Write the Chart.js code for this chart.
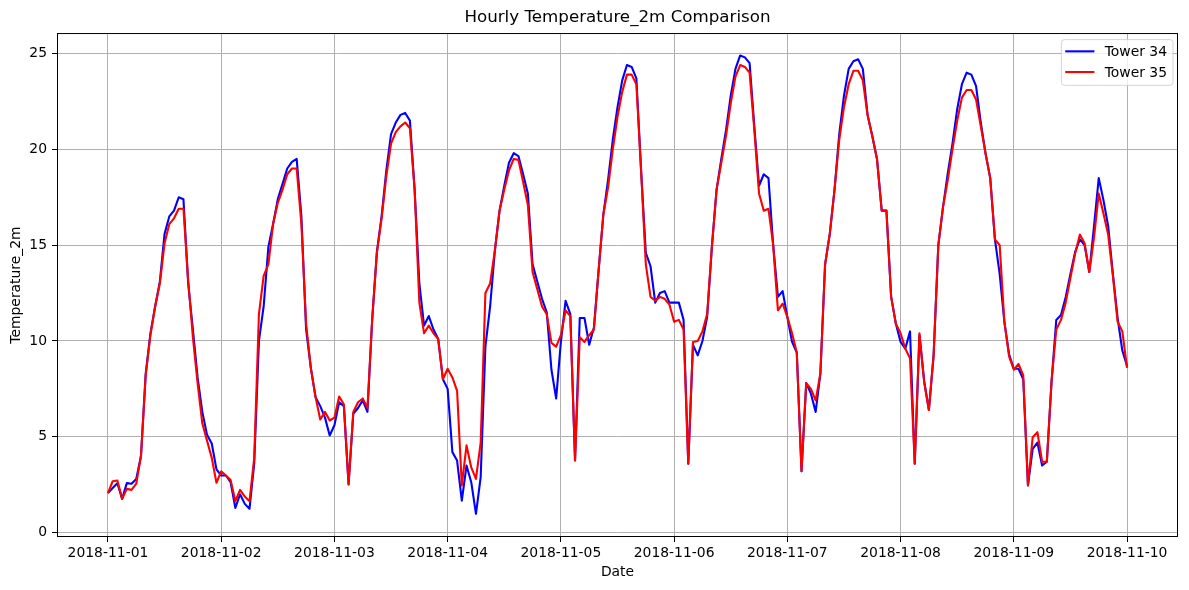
<!DOCTYPE html>
<html>
<head>
<meta charset="utf-8">
<script src="https://cdn.jsdelivr.net/npm/chart.js@4.4.1/dist/chart.umd.min.js"></script>
<style>
  html, body { margin: 0; padding: 0; background: #fff; }
  canvas { display: block; }
</style>
</head>
<body>
<canvas id="chart" width="1189" height="590"></canvas>
<script>
const dayLabels = ["2018-11-01", "2018-11-02", "2018-11-03", "2018-11-04", "2018-11-05",
  "2018-11-06", "2018-11-07", "2018-11-08", "2018-11-09", "2018-11-10"];

// hourly values, 2018-11-01 00:00 .. 2018-11-10 00:00
const tower34 = [
  2.06, 2.33, 2.58, 1.76, 2.58, 2.55, 2.8, 4.0, 8.3, 10.4, 11.8, 13.1, 15.6, 16.5, 16.8, 17.5, 17.4, 13.0, 10.6, 8.1, 6.3, 5.1, 4.65, 3.3,
  2.98, 2.98, 2.63, 1.29, 2.0, 1.5, 1.24, 3.6, 10.0, 11.8, 14.9, 16.1, 17.4, 18.2, 19.0, 19.35, 19.5, 16.5, 10.6, 8.6, 7.07, 6.6, 6.0, 5.07,
  5.6, 6.8, 6.6, 2.54, 6.2, 6.5, 6.9, 6.3, 11.1, 14.65, 16.5, 18.9, 20.8, 21.4, 21.8, 21.9, 21.5, 17.9, 13.0, 10.8, 11.3, 10.6, 10.1, 8.0,
  7.5, 4.2, 3.76, 1.67, 3.5, 2.63, 0.98, 2.9, 9.7, 11.8, 14.7, 16.8, 18.1, 19.3, 19.8, 19.65, 18.7, 17.7, 14.0, 13.1, 12.2, 11.5, 8.5, 7.0,
  9.95, 12.1, 11.4, 3.76, 11.2, 11.2, 9.8, 10.7, 13.7, 16.6, 18.4, 20.5, 22.2, 23.6, 24.4, 24.3, 23.7, 18.9, 14.6, 13.9, 12.0, 12.5, 12.6, 12.0,
  12.0, 12.0, 11.1, 3.6, 9.8, 9.25, 10.0, 11.25, 14.9, 17.9, 19.5, 21.0, 22.8, 24.2, 24.9, 24.8, 24.5, 21.2, 18.1, 18.7, 18.5, 15.0, 12.3, 12.6,
  11.25, 9.95, 9.4, 3.2, 7.8, 7.25, 6.3, 8.3, 14.0, 15.6, 17.9, 20.8, 22.8, 24.2, 24.6, 24.7, 24.2, 21.8, 20.7, 19.5, 16.8, 16.8, 12.3, 10.9,
  9.95, 9.6, 10.5, 3.6, 10.3, 7.9, 6.4, 9.25, 15.0, 17.0, 18.75, 20.3, 22.1, 23.4, 24.0, 23.9, 23.3, 21.4, 19.8, 18.5, 15.3, 13.5, 11.0, 9.3,
  8.55, 8.55, 8.0, 2.46, 4.37, 4.7, 3.5, 3.7, 7.9, 11.1, 11.35, 12.3, 13.5, 14.65, 15.3, 15.0, 13.6, 16.0, 18.5, 17.35, 16.0, 13.5, 11.2, 9.5,
  8.7
];

const tower35 = [
  2.06, 2.68, 2.72, 1.76, 2.28, 2.23, 2.55, 4.0, 8.2, 10.3, 11.8, 13.0, 15.1, 16.1, 16.4, 16.9, 16.9, 13.2, 10.2, 7.8, 5.7, 4.8, 3.9, 2.6,
  3.2, 2.98, 2.75, 1.64, 2.23, 1.88, 1.64, 3.9, 11.4, 13.4, 14.0, 16.1, 17.2, 17.9, 18.7, 19.0, 19.0, 16.1, 10.9, 8.6, 7.07, 5.9, 6.3, 5.85,
  6.0, 7.1, 6.7, 2.5, 6.3, 6.8, 7.0, 6.5, 11.1, 14.6, 16.4, 18.6, 20.3, 20.9, 21.2, 21.4, 21.1, 17.9, 12.0, 10.4, 10.8, 10.4, 10.1, 8.0,
  8.55, 8.1, 7.4, 2.46, 4.55, 3.4, 2.8, 4.7, 12.5, 13.0, 14.7, 16.8, 17.9, 18.9, 19.5, 19.45, 18.3, 17.1, 13.6, 12.7, 11.8, 11.4, 9.9, 9.7,
  10.3, 11.6, 11.3, 3.76, 10.2, 9.95, 10.3, 10.6, 13.7, 16.6, 18.0, 20.0, 21.7, 23.0, 23.9, 23.9, 23.4, 18.9, 14.0, 12.3, 12.1, 12.3, 12.2, 11.9,
  11.0, 11.1, 10.6, 3.6, 9.95, 10.0, 10.5, 11.4, 14.9, 17.9, 19.3, 20.7, 22.4, 23.8, 24.4, 24.3, 24.0, 21.0, 17.7, 16.8, 16.9, 15.0, 11.6, 11.95,
  11.25, 10.4, 9.4, 3.2, 7.8, 7.5, 6.9, 8.3, 14.0, 15.6, 17.9, 20.5, 22.2, 23.4, 24.1, 24.1, 23.6, 21.8, 20.7, 19.5, 16.8, 16.8, 12.3, 10.9,
  10.4, 9.6, 9.1, 3.6, 10.4, 7.85, 6.4, 9.25, 15.0, 17.0, 18.4, 20.0, 21.5, 22.7, 23.1, 23.1, 22.6, 21.2, 19.8, 18.5, 15.3, 15.0, 11.0, 9.2,
  8.5, 8.8, 8.2, 2.46, 4.98, 5.24, 3.7, 3.7, 7.9, 10.6, 11.1, 12.0, 13.3, 14.56, 15.55, 15.1, 13.6, 15.4, 17.7, 16.65, 15.55, 13.4, 11.0, 10.5,
  8.6
];

const yTicks = [0, 5, 10, 15, 20, 25];

const FONT = "'DejaVu Sans', sans-serif";
const toPoints = (arr) => arr.map((v, i) => ({ x: i, y: v }));

// full box round the plot, like matplotlib spines
const frame = {
  id: "frame",
  afterDatasetsDraw(chart) {
    const { ctx, chartArea: a } = chart;
    ctx.save();
    ctx.strokeStyle = "#000";
    ctx.lineWidth = 1;
    ctx.strokeRect(a.left + 0.5, a.top + 0.5, a.right - a.left - 1, a.bottom - a.top - 1);
    ctx.restore();
  }
};

// matplotlib style legend in the upper right corner
const legendBox = {
  id: "legendBox",
  afterDraw(chart) {
    const { ctx, chartArea: a } = chart;
    const w = 111.6, h = 45.7;
    const x = a.right - 5 - w, y = a.top + 6.6;
    ctx.save();
    ctx.beginPath();
    ctx.roundRect(x, y, w, h, 3);
    ctx.fillStyle = "rgba(255,255,255,0.8)";
    ctx.fill();
    ctx.strokeStyle = "rgba(204,204,204,0.8)";
    ctx.lineWidth = 1;
    ctx.stroke();
    ctx.font = "13.9px " + FONT;
    ctx.textBaseline = "middle";
    ctx.fillStyle = "#000";
    chart.data.datasets.forEach((ds, i) => {
      const ly = y + 11.7 + i * 20.7;
      ctx.beginPath();
      ctx.moveTo(x + 3.8, ly);
      ctx.lineTo(x + 33, ly);
      ctx.strokeStyle = ds.borderColor;
      ctx.lineWidth = 2.1;
      ctx.stroke();
      ctx.fillText(ds.label, x + 43.3, ly + 1);
    });
    ctx.restore();
  }
};

new Chart(document.getElementById("chart").getContext("2d"), {
  type: "line",
  data: {
    datasets: [
      { label: "Tower 34", data: toPoints(tower34), borderColor: "#0000ff", order: 1 },
      { label: "Tower 35", data: toPoints(tower35), borderColor: "#ff0000", order: 0 }
    ]
  },
  options: {
    responsive: false,
    animation: false,
    devicePixelRatio: 1,
    layout: { padding: { left: 0, right: 11, top: 0, bottom: 0 } },
    elements: {
      line: { borderWidth: 2.1, tension: 0, borderJoinStyle: "round", fill: false },
      point: { radius: 0 }
    },
    plugins: {
      legend: { display: false },
      tooltip: { enabled: false },
      title: {
        display: true,
        fullSize: false,
        text: "Hourly Temperature_2m Comparison",
        color: "#000",
        font: { family: FONT, size: 16.7, weight: "normal" },
        padding: { top: 8, bottom: 5 }
      }
    },
    scales: {
      x: {
        type: "linear",
        min: -10.8,
        max: 226.8,
        afterBuildTicks: (s) => { s.ticks = dayLabels.map((_, i) => ({ value: i * 24 })); },
        afterFit: (s) => { s.height = 53; },
        ticks: {
          callback: (v) => dayLabels[Math.round(v / 24)],
          color: "#000",
          font: { family: FONT, size: 13.9 },
          padding: 3,
          maxRotation: 0,
          autoSkip: false
        },
        grid: { color: "#b0b0b0", lineWidth: 1, tickLength: 5, tickColor: "#000" },
        border: { display: false },
        title: {
          display: true,
          text: "Date",
          color: "#000",
          font: { family: FONT, size: 13.9 },
          padding: { top: 0, bottom: 9.7 }
        }
      },
      y: {
        min: -0.23,
        max: 26.07,
        afterBuildTicks: (s) => { s.ticks = yTicks.map(v => ({ value: v })); },
        afterFit: (s) => { s.width = 57; },
        ticks: {
          color: "#000",
          font: { family: FONT, size: 13.9 },
          padding: 5
        },
        grid: { color: "#b0b0b0", lineWidth: 1, tickLength: 5, tickColor: "#000" },
        border: { display: false },
        title: {
          display: true,
          text: "Temperature_2m",
          color: "#000",
          font: { family: FONT, size: 13.9 },
          padding: { top: 7.7, bottom: 0 }
        }
      }
    }
  },
  plugins: [frame, legendBox]
});
</script>
</body>
</html>
